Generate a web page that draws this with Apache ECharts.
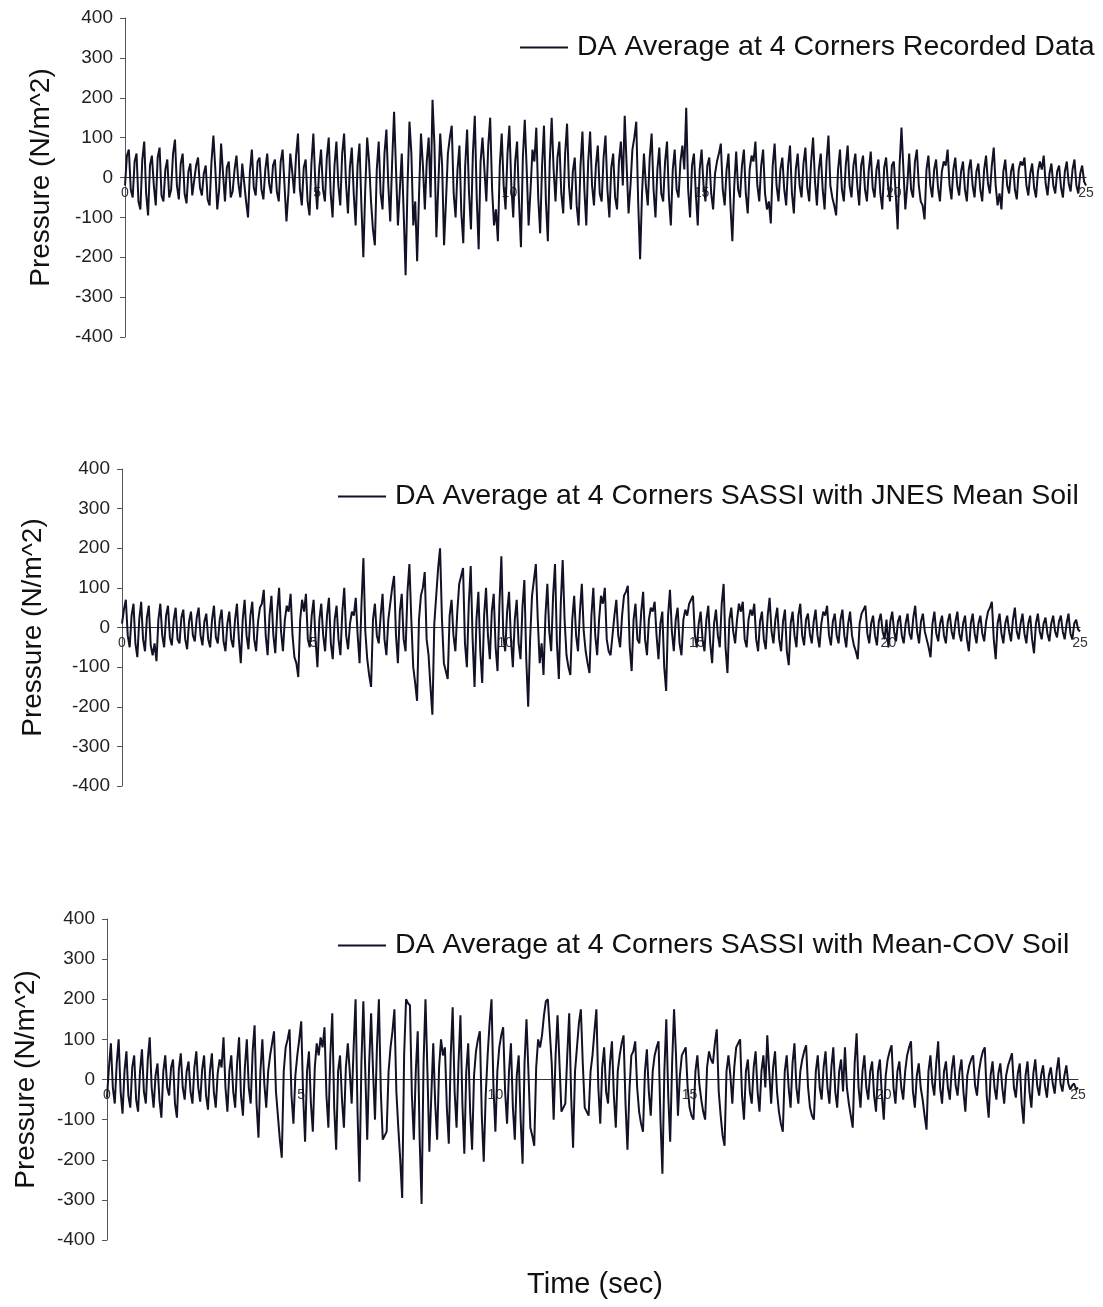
<!DOCTYPE html>
<html>
<head>
<meta charset="utf-8">
<script src="https://cdn.jsdelivr.net/npm/echarts/dist/echarts.min.js"></script>
<style>
html,body{margin:0;padding:0;background:#fff;}
#chart{width:1103px;height:1307px;}
</style>
</head>
<body>
<div id="chart"></div>
<script>
// ---- DATA ----
const timeStep = 0.05; // seconds between samples
const xTicks = [0, 5, 10, 15, 20, 25];
const yTicks = [-400, -300, -200, -100, 0, 100, 200, 300, 400];

const seriesNames = [
  "DA Average at 4 Corners Recorded Data",
  "DA Average at 4 Corners SASSI with JNES Mean Soil",
  "DA Average at 4 Corners SASSI with Mean-COV Soil"
];

const recordedData = [
  -20, 55, 70, -30, -50, 40, 60, -60, -80, 45, 90, -40, -95, 30, 55, -20, -70, 50, 75, -45,
  -60, 20, 45, -50, -30, 60, 95, -20, -55, 35, 60, -40, -65, 15, 35, -45, -40, 30, 50, -25,
  -45, 10, 30, -55, -70, 40, 105, 20, -80, -30, 85, 10, -60, 25, 40, -50, -35, 20, 55, -15,
  -50, 35, 40, -60, -100, 15, 70, -25, -45, 40, 50, -30, -55, 20, 60, -15, -40, 30, 45, -35,
  -60, 40, 70, -20, -110, -40, 60, 15, -40, 55, 110, -30, -70, 25, 45, -60, -95, 35, 110, -10,
  -80, 20, 70, -30, -60, 50, 100, -40, -100, 30, 90, -20, -70, 60, 110, -15, -90, 25, 75, -40,
  -120, 30, 85, -70, -200, -30, 100, 40, -60, -130, -170, 20, 90, -40, -80, 60, 120, -20, -110, 40,
  165, 20, -120, -30, 60, -90, -245, -20, 140, 60, -120, -60, -210, -40, 110, 30, -80, 40, 100, -50,
  195, 80, -150, -20, 110, 30, -170, -60, 60, 100, 130, -40, -100, 20, 80, -90, -165, 30, 120, -40,
  -130, 60, 155, -50, -180, 40, 100, 20, -60, 80, 150, -30, -120, -80, -160, 30, 110, -20, -80, 60,
  130, -20, -100, 40, 90, -60, -175, 50, 145, 20, -120, -30, 70, 40, 125, -50, -140, 30, 130, -60,
  -160, 40, 150, 20, -60, 50, 90, -40, -90, 60, 135, -20, -80, 15, 50, -70, -120, 30, 115, -30,
  -120, 40, 115, -20, -70, 30, 80, -40, -60, 50, 105, -30, -100, 25, 60, -50, -80, 40, 90, -20,
  155, 30, -90, -20, 70, 100, 140, -60, -205, -40, 60, -20, -70, 50, 110, -30, -100, 20, 75, -40,
  -60, 40, 90, -50, -120, 20, 70, -30, -50, 40, 80, 20, 175, -30, -100, 30, 60, -40, -120, 20,
  70, -20, -60, 30, 50, -40, -80, 10, 40, 60, 85, -30, -70, 20, 60, -70, -160, -20, 65, -30,
  -50, 30, 70, -40, -90, 20, 55, 40, 90, -20, -60, 30, 70, -40, -80, -60, -115, 30, 85, -20,
  -60, 20, 50, -30, -70, 30, 80, -40, -90, 20, 60, -20, -50, 35, 75, -25, -60, 40, 100, -10,
  -70, 20, 60, -30, -80, 40, 105, -20, -50, -70, -95, 20, 70, -30, -60, 30, 80, -20, -50, 30,
  60, -20, -70, 30, 55, -30, -60, 20, 65, -25, -50, 20, 45, -40, -80, 25, 50, -20, -60, 30,
  40, -40, -130, 30, 125, 20, -80, -20, 60, -30, -50, 40, 70, -20, -60, -70, -105, 20, 55, -20,
  -50, 20, 45, -25, -60, 15, 40, 30, 70, -20, -55, 20, 50, -20, -45, 15, 40, -30, -60, 20,
  45, -20, -50, 15, 35, -30, -60, 20, 55, -15, -40, 30, 75, -20, -70, -40, -80, 15, 45, -20,
  -40, 15, 35, -30, -55, 20, 40, 30, 50, -20, -45, 10, 35, -25, -50, 15, 40, 20, 55, -15,
  -45, 10, 35, -20, -40, 15, 30, -25, -50, 15, 40, -15, -35, 20, 45, -20, -40, 10, 30, -10,
  -20
];

const jnesMeanSoil = [
  10, 45, 70, -20, -50, 30, 60, -40, -75, 20, 65, -30, -60, 25, 55, -45, -70, -40, -85, 20,
  60, -20, -50, 30, 55, -25, -45, 20, 50, -30, -40, 25, 45, -30, -55, 15, 40, -20, -35, 25,
  50, -20, -45, 15, 35, -30, -50, 20, 55, -25, -40, 20, 45, -35, -60, 10, 40, -30, -50, 20,
  60, -30, -90, 20, 70, -20, -55, 30, 65, -30, -60, 15, 50, 60, 95, -20, -70, 30, 80, -20,
  -65, 40, 100, -10, -60, 20, 55, 40, 85, -20, -75, -90, -125, 20, 70, 40, 85, -30, -50, 30,
  70, -30, -100, 20, 60, -20, -60, 30, 75, -40, -80, 20, 55, -30, -70, 40, 100, -20, -55, 10,
  40, 30, 75, -20, -90, 60, 175, -10, -80, -120, -150, 20, 60, -20, -40, 30, 85, -30, -70, 20,
  60, 100, 130, -20, -90, 40, 85, -30, -60, 90, 160, 20, -100, -140, -185, 20, 80, 100, 140, -30,
  -70, -150, -220, 10, 80, 150, 200, 20, -90, -110, -130, 30, 70, -20, -60, 40, 110, 130, 150, -40,
  -100, 60, 155, -30, -150, 20, 90, -60, -140, 30, 100, -20, -80, 40, 85, -50, -110, 60, 180, -20,
  -60, 40, 90, -30, -100, 20, 70, -40, -80, 50, 120, -80, -200, -30, 80, 120, 160, 20, -90, -40,
  -120, 30, 110, -10, -60, 80, 160, -40, -130, 60, 170, 20, -70, -100, -120, 20, 80, -20, -60, 40,
  110, -10, -60, -90, -115, 30, 100, -20, -70, 20, 80, 60, 100, -30, -60, -70, -75, 30, 70, -20,
  -50, 30, 80, 90, 105, -50, -110, 20, 60, -30, -40, 40, 90, -30, -70, 20, 50, 40, 65, -20,
  -80, 10, 40, -100, -160, 30, 95, -10, -60, 20, 50, -40, -70, 20, 45, 30, 60, 70, 80, -20,
  -50, 10, 40, -30, -60, 20, 55, -40, -90, 10, 45, -20, -50, 60, 110, -50, -115, 20, 50, -10,
  -40, 20, 60, 40, 65, -30, -50, 20, 45, 30, 60, -30, -60, 15, 40, -30, -55, 30, 75, -10,
  -40, 20, 50, -30, -60, 15, 45, -60, -95, 10, 40, -20, -50, 30, 60, -20, -45, 20, 35, -15,
  -40, 15, 45, -20, -50, 10, 40, 30, 55, -20, -45, 15, 35, -20, -40, 20, 45, -20, -50, 10,
  40, -20, -45, -60, -80, 10, 35, 40, 55, -15, -40, 10, 30, -20, -45, 15, 35, -10, -30, 20,
  -50, 15, 40, -10, -35, 15, 30, -20, -40, 10, 35, -15, -30, 25, 55, -10, -40, 15, 35, -10,
  -30, -50, -75, 10, 40, -15, -35, 10, 30, -20, -40, 15, 35, -10, -30, 15, 40, -15, -35, 10,
  30, -30, -60, 10, 35, -15, -40, 10, 30, -15, -35, 15, 40, 50, 65, -30, -80, 10, 35, -15,
  -40, 10, 30, -10, -35, 20, 50, -10, -30, 10, 35, -15, -40, 10, 30, -30, -65, 10, 35, -10,
  -30, 10, 25, -15, -35, 10, 30, -10, -25, 15, 30, -10, -30, 10, 35, -15, -30, 10, 20, -5,
  -10
];

const meanCovSoil = [
  -45, 30, 90, -20, -60, 40, 100, -30, -85, 20, 70, -40, -70, 30, 60, -50, -80, 20, 75, -30,
  -60, 50, 105, -20, -70, 10, 40, -50, -95, 20, 60, -20, -40, 30, 50, -60, -95, 25, 65, -20,
  -50, 20, 45, -30, -60, 30, 70, -20, -55, 25, 60, -40, -75, 20, 65, -30, -70, 15, 50, 30,
  105, -20, -80, 20, 60, -30, -70, 40, 105, -40, -90, 30, 100, -20, -60, 70, 135, -60, -145, 20,
  100, -10, -70, 20, 60, 90, 120, -30, -90, -150, -195, 20, 80, 100, 125, -40, -110, 10, 60, 100,
  145, -40, -155, 20, 70, -60, -130, 30, 90, 60, 105, 80, 130, -40, -120, 60, 165, -70, -175, 20,
  60, -50, -120, 30, 90, 20, -60, 80, 200, -80, -255, 40, 195, 20, -150, 40, 165, 20, -100, 80,
  200, -30, -150, -140, -130, 20, 80, 120, 175, -30, -120, -200, -295, 60, 200, 190, 185, -40, -150, 20,
  120, -150, -310, 40, 200, 20, -180, -40, 90, -60, -150, 30, 100, 60, 80, -70, -160, 60, 180, -30,
  -120, 40, 160, -60, -185, 20, 90, -80, -175, 10, 70, 100, 120, -90, -205, -40, 60, 140, 200, -20,
  -130, 20, 80, 110, 130, -30, -110, 20, 90, -70, -150, 10, 60, -100, -210, 40, 150, 20, -120, -140,
  -165, 30, 100, 80, 110, 160, 195, 200, 200, 40, -100, 60, 160, 40, -80, -70, -60, 60, 165, -40,
  -170, 20, 80, 140, 175, 40, -70, -80, -90, 20, 60, 120, 175, -20, -110, 30, 80, -30, -60, 40,
  95, -40, -120, 20, 60, 90, 110, -60, -175, -30, 60, 70, 95, -20, -80, -110, -130, 20, 75, -30,
  -90, 20, 60, 80, 95, -100, -235, 20, 150, -40, -155, 40, 175, 60, -90, 10, 60, 70, 80, -20,
  -70, -90, -100, 20, 60, -10, -50, -80, -100, 30, 70, 50, 40, 90, 125, -30, -90, -140, -165, 20,
  60, 10, -60, 30, 80, 90, 100, -40, -100, 20, 50, -30, -60, 30, 70, -30, -80, 20, 60, -20,
  110, 20, -60, 30, 70, -30, -80, -110, -130, 20, 60, -20, -70, 40, 90, -20, -60, 20, 50, 70,
  85, -20, -70, -90, -100, 20, 60, -20, -50, 30, 70, -20, -60, 30, 80, -30, -70, 20, 50, -30,
  80, -20, -60, -90, -120, 40, 115, -20, -70, 20, 60, -20, -50, 20, 45, -40, -80, 20, 50, -40,
  -100, 10, 50, 70, 85, -20, -60, 20, 45, -20, -50, 20, 60, 80, 95, -30, -70, 10, 40, -20,
  -50, -90, -125, 20, 60, -10, -40, 40, 95, -20, -60, 20, 45, -20, -50, 25, 60, -15, -40, 20,
  50, -30, -80, 10, 35, 50, 60, -15, -40, 20, 50, 70, 80, -40, -95, 10, 45, -20, -50, 15,
  40, -20, -60, 10, 35, 50, 65, -20, -45, 15, 40, -60, -110, 10, 45, -30, -70, 15, 50, -15,
  -40, 10, 35, -15, -45, 10, 30, -10, -35, 20, 55, -10, -30, 10, 35, -10, -25, -15, -10, -25,
  -20
];

const allSeries = [recordedData, jnesMeanSoil, meanCovSoil];

// ---- LAYOUT / STYLE ----
const FONT = '"Liberation Sans", Arial, Helvetica, sans-serif';
const LINE_COLOR = '#121226';
const panels = [
  { left: 125, right: 17, top: 18,  height: 319, nameGap: 70, legendLeft: 520, legendTop: 33 },
  { left: 122, right: 23, top: 469, height: 317, nameGap: 75, legendLeft: 338, legendTop: 482 },
  { left: 107, right: 25, top: 919, height: 321, nameGap: 67, legendLeft: 338, legendTop: 931 }
];

const grid = [], xAxis = [], yAxis = [], series = [], legend = [];
panels.forEach((p, i) => {
  grid.push({ left: p.left, right: p.right, top: p.top, height: p.height, containLabel: false });
  xAxis.push({
    gridIndex: i, type: 'value',
    min: xTicks[0], max: xTicks[xTicks.length - 1], interval: xTicks[1] - xTicks[0],
    position: 'bottom', offset: -p.height / 2,
    axisLine: { onZero: false, lineStyle: { color: '#333', width: 1 } },
    axisTick: { show: false },
    axisLabel: { fontSize: 14, color: '#333', margin: 9, fontFamily: FONT, showMinLabel: true, showMaxLabel: true },
    splitLine: { show: false }
  });
  yAxis.push({
    gridIndex: i, type: 'value',
    min: yTicks[0], max: yTicks[yTicks.length - 1], interval: yTicks[1] - yTicks[0],
    axisLine: { show: true, onZero: false, lineStyle: { color: '#555', width: 1 } },
    axisTick: { show: true, length: 5, lineStyle: { color: '#555' } },
    axisLabel: { fontSize: 19, color: '#222', margin: 12, fontFamily: FONT },
    splitLine: { show: false },
    name: 'Pressure (N/m^2)', nameLocation: 'middle', nameGap: p.nameGap,
    nameTextStyle: { fontSize: 28, color: '#111', fontFamily: FONT }
  });
  series.push({
    name: seriesNames[i], type: 'line', xAxisIndex: i, yAxisIndex: i,
    data: allSeries[i].map((v, k) => [k * timeStep, v]),
    symbol: 'none', showSymbol: false, animation: false,
    lineStyle: { color: LINE_COLOR, width: 2 }, itemStyle: { color: LINE_COLOR }
  });
  legend.push({
    data: [seriesNames[i]], left: p.legendLeft, top: p.legendTop,
    icon: 'rect', itemWidth: 48, itemHeight: 2, itemGap: 8, padding: 0,
    textStyle: { fontSize: 28.5, color: '#111', fontFamily: FONT, padding: [0, 0, 0, 4] },
    selectedMode: false
  });
});

const chart = echarts.init(document.getElementById('chart'), null, { renderer: 'canvas' });
chart.setOption({
  backgroundColor: '#ffffff',
  animation: false,
  grid, xAxis, yAxis, series, legend,
  graphic: [{
    type: 'text', x: 595, y: 1285,
    style: { text: 'Time (sec)', font: '29px ' + FONT, fill: '#111', align: 'center', verticalAlign: 'middle', textAlign: 'center', textVerticalAlign: 'middle' }
  }]
});
</script>
</body>
</html>
